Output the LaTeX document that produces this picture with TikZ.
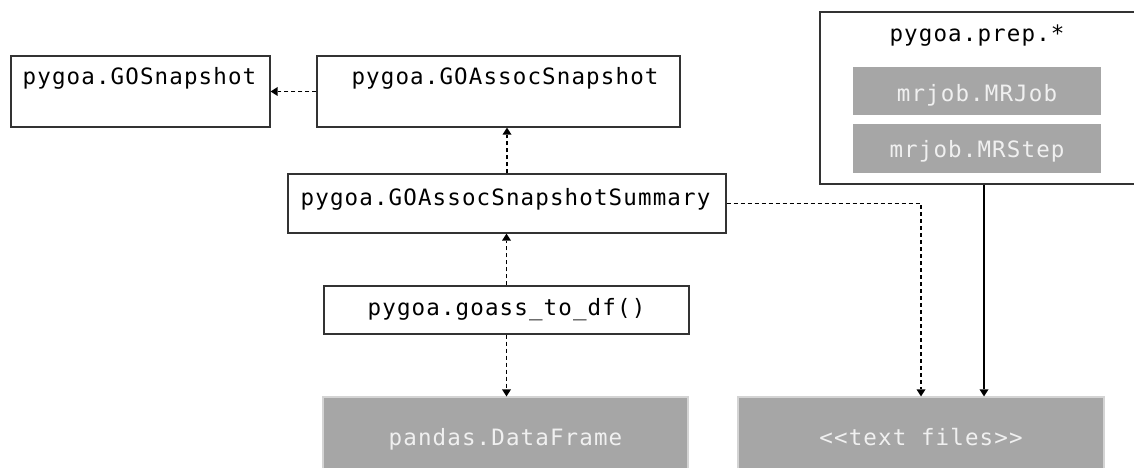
\documentclass[tikz,border=0pt]{standalone}
\usepackage{fontspec}
\setmonofont{DejaVu Sans Mono}[LetterSpace=5]
\usetikzlibrary{arrows.meta,calc}
\definecolor{boxline}{HTML}{333333}
\definecolor{grayfill}{HTML}{A6A6A6}
\definecolor{grayline}{HTML}{D4D4D4}
\definecolor{graytext}{HTML}{F0F0F0}
\tikzset{
  x=1pt,y=-1pt,
  wbox/.style={draw=boxline,line width=1.2pt,fill=white,rectangle,inner sep=0pt},
  gbox/.style={draw=grayline,line width=1.2pt,fill=grayfill,rectangle,inner sep=0pt,text=graytext},
  lbl/.style={font=\ttfamily\fontsize{22.5}{26}\selectfont,inner sep=0pt,text=black,anchor=base},
  glbl/.style={font=\ttfamily\fontsize{22.5}{26}\selectfont,inner sep=0pt,text=graytext,anchor=base},
  tip/.tip={Triangle[width=9pt,length=7pt,line width=0pt]},
  dep/.style={line width=1.3pt,dash pattern=on 4pt off 3pt,-tip},
  sol/.style={line width=1.3pt,-tip},
}
\begin{document}
\begin{tikzpicture}
\useasboundingbox (0,0) rectangle (1134,468);
% boxes
\node[wbox,minimum width=259pt,minimum height=71pt] (gs) at (140.5,91.5) {};
\node[lbl] (gst) at (139.5,85) {pygoa.GOSnapshot};
\node[wbox,minimum width=363pt,minimum height=71pt] (gas) at (498.5,91.5) {};
\node[lbl] (gast) at (505,85) {pygoa.GOAssocSnapshot};
\node[wbox,minimum width=438pt,minimum height=59pt] (sum) at (507,203.5) {};
\node[lbl] (sumt) at (505.5,205.5) {pygoa.GOAssocSnapshotSummary};
\node[wbox,minimum width=365pt,minimum height=48pt] (gdf) at (506.5,310) {};
\node[lbl] (gdft) at (506.5,315) {pygoa.goass\_to\_df()};
\node[gbox,minimum width=365pt,minimum height=90pt] (pdf) at (505.5,442) {};
\node[glbl] (pdft) at (505.5,445) {pandas.DataFrame};
\node[gbox,minimum width=366pt,minimum height=90pt] (tf) at (921,442) {};
\node[glbl] (tft) at (921,445) {<{}<text files>{}>};
\node[wbox,minimum width=340pt,minimum height=172pt] (prep) at (990,98) {};
\node[lbl] (prept) at (977,42) {pygoa.prep.*};
\node[gbox,draw=none,minimum width=248pt,minimum height=48pt] (job) at (977,91) {};
\node[glbl] (jobt) at (977,102) {mrjob.MRJob};
\node[gbox,draw=none,minimum width=248pt,minimum height=48pt] (step) at (977,148.5) {};
\node[glbl] (stept) at (977,157) {mrjob.MRStep};
% connectors
\draw[dep] (gas.west) -- (gs.east);
\draw[dep] (sum.north) -- (sum.north |- gas.south);
\draw[dep] (gdf.north) -- (gdf.north |- sum.south);
\draw[dep] (gdf.south) -- (gdf.south |- pdf.north);
\draw[dep] (sum.east) -| (tf.north);
\draw[sol] ([xshift=63pt]tf.north |- prep.south) -- ([xshift=63pt]tf.north);
\end{tikzpicture}
\end{document}
